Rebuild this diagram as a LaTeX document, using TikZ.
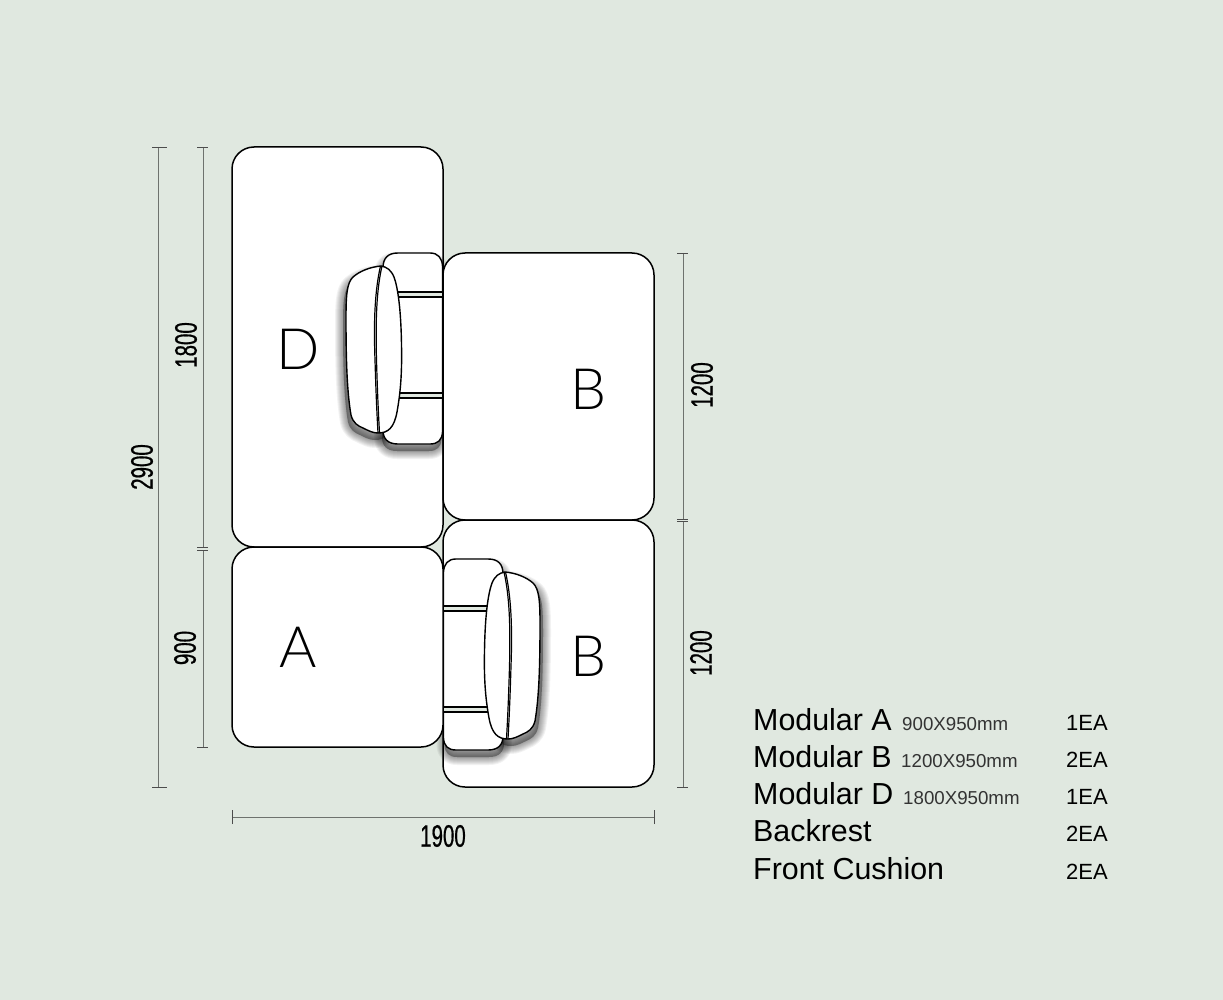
\documentclass[tikz,border=0pt]{standalone}
\usepackage{fontspec}
\setmainfont{Liberation Sans}
\newfontfamily\dimfont[FakeStretch=0.66,FakeBold=0.6]{Liberation Sans}
\newfontfamily\letterfont{Lato Light}
\usetikzlibrary{positioning}

\definecolor{bgcol}{HTML}{E0E8E0}
\definecolor{dimcol}{HTML}{6E726E}

\tikzset{
  module/.style={draw=black,line width=1.5pt,fill=white,rounded corners=22pt},
  seatline/.style={draw=black,line width=1.4pt,fill=white},
  dimline/.style={draw=dimcol,line width=0.9pt},
  dimtick/.style={draw=black!70,line width=0.7pt},
  dimlabel/.style={font=\dimfont\fontsize{31}{31}\selectfont,text=black,inner sep=0pt},
  letterlabel/.style={font=\letterfont\fontsize{57}{57}\selectfont,text=black,inner sep=0pt},
  itemlabel/.style={font=\fontsize{30.4}{30.4}\selectfont,text=black,anchor=base west,inner sep=0pt},
  sizelabel/.style={font=\fontsize{18.7}{18.7}\selectfont,text=black!80,anchor=base west,inner sep=0pt},
  countlabel/.style={font=\fontsize{22}{22}\selectfont,text=black,anchor=base west,inner sep=0pt},
}

\newcommand{\backpath}{(383,268) .. controls (383,258) and (388,253) .. (398,253) -- (430,253)
  .. controls (438,253) and (442,258) .. (442.5,266) -- (442.5,432)
  .. controls (442,440) and (438,444) .. (430,444) -- (398,444)
  .. controls (388,444) and (383,439) .. (383,430) -- cycle}
\newcommand{\cushionpath}{(381,266) .. controls (370,267) and (360,271) .. (353,277)
  .. controls (347,283) and (346,294) .. (346,318)
  .. controls (346,360) and (347,392) .. (351,415)
  .. controls (353,423) and (358,426) .. (363,428)
  .. controls (369,431) and (373,433) .. (378,433)
  .. controls (388,433) and (394,428) .. (397,412)
  .. controls (401,390) and (402,370) .. (401.5,345)
  .. controls (401,310) and (398,288) .. (394,277)
  .. controls (391,270) and (387,267) .. (381,266) -- cycle}

% backrest with its front cushion, #1 moves the stripes
\newcommand{\seatunit}[1]{
  \foreach \w in {16,14,12,10,8,6,4,2} {
    \draw[black,opacity=0.05,line width=\w pt,line join=round,fill=black,fill opacity=0.05,shift={(-1,7)}] \backpath;
    \draw[black,opacity=0.05,line width=\w pt,line join=round,fill=black,fill opacity=0.05,shift={(-3,7)}] \cushionpath;
  }
  \path[seatline] \backpath;
  \fill[bgcol] (396,{292+#1}) rectangle (442,{297+#1});
  \fill[bgcol] (396,{393+#1}) rectangle (442,{398+#1});
  \foreach \ya in {292,297,393,398} {
    \draw[draw=black,line width=1.4pt] (396,{\ya+#1}) -- (442,{\ya+#1});
  }
  \path[seatline] \cushionpath;
  \draw[black,line width=1.2pt] (380.5,266) .. controls (375,290) and (373.5,320) .. (375,360) .. controls (376,395) and (377,415) .. (378,433);
  \draw[black,line width=1.2pt] (382,266) .. controls (376.5,290) and (375.5,320) .. (376.5,360) .. controls (377.5,395) and (378.5,415) .. (379.5,433);
}

\begin{document}
\begin{tikzpicture}[x=1pt,y=-1pt]
  \useasboundingbox[fill=bgcol] (0,0) rectangle (1223,1000);

  % modules
  \path[module] (232,147) rectangle (443,547);
  \seatunit{0}
  \path[module] (443,253) rectangle (654,520);
  \path[module] (443,520) rectangle (654,787);
  \begin{scope}[shift={(886,306)},xscale=-1]
    \seatunit{8}
  \end{scope}
  \path[module] (232,547) rectangle (443,747);

  \node[letterlabel] (letterd) at (298,349) {D};
  \node[letterlabel] (lettera) at (298,647) {A};
  \node[letterlabel] (letterb) at (589,389) {B};
  \node[letterlabel] (lettersb) at (589,656) {B};

  % dimensions
  \coordinate (totaltop) at (158,147);
  \coordinate (totalbot) at (158,787);
  \coordinate (dtop) at (203,147);
  \coordinate (dbot) at (203,547);
  \coordinate (atop) at (203,550);
  \coordinate (abot) at (203,747);
  \coordinate (btop) at (683,253);
  \coordinate (bbot) at (683,519);
  \coordinate (ctop) at (683,521);
  \coordinate (cbot) at (683,787);
  \coordinate (wleft) at (232,817);
  \coordinate (wright) at (654,817);

  \draw[dimline] (totaltop) -- (totalbot);
  \draw[dimline] (dtop) -- (dbot);
  \draw[dimline] (atop) -- (abot);
  \draw[dimline] (btop) -- (bbot);
  \draw[dimline] (ctop) -- (cbot);
  \draw[dimline] (wleft) -- (wright);

  \foreach \a in {totaltop,totalbot} {
    \draw[dimtick] ([xshift=-6pt]\a) -- ([xshift=9pt]\a);
  }
  \foreach \a in {dtop,dbot,atop,abot,btop,bbot,ctop,cbot} {
    \draw[dimtick] ([xshift=-6pt]\a) -- ([xshift=5pt]\a);
  }
  \foreach \a in {wleft,wright} {
    \draw[dimtick] ([yshift=-7pt]\a) -- ([yshift=7pt]\a);
  }

  \node[dimlabel,rotate=90] (total) at (142,467) {2900};
  \node[dimlabel,rotate=90] (dheight) at (186,345) {1800};
  \node[dimlabel,rotate=90] (aheight) at (185,648) {900};
  \node[dimlabel,rotate=90] (bheight) at (702,385) {1200};
  \node[dimlabel,rotate=90] (cheight) at (701,653) {1200};
  \node[dimlabel] (width) at (443,836) {1900};

  % list
  \node[itemlabel] (itema) at (753,730) {Modular A};
  \node[itemlabel] (itemb) at (753,767) {Modular B};
  \node[itemlabel] (itemd) at (753,804) {Modular D};
  \node[itemlabel] (itemr) at (753,841) {Backrest};
  \node[itemlabel] (itemc) at (753,879) {Front Cushion};

  \node[sizelabel] (sizea) at (902,730) {900X950mm};
  \node[sizelabel] (sizeb) at (901,767) {1200X950mm};
  \node[sizelabel] (sized) at (903,804) {1800X950mm};

  \node[countlabel] (counta) at (1066,730) {1EA};
  \node[countlabel] (countb) at (1066,767) {2EA};
  \node[countlabel] (countd) at (1066,804) {1EA};
  \node[countlabel] (countr) at (1066,841) {2EA};
  \node[countlabel] (countc) at (1066,879) {2EA};
\end{tikzpicture}
\end{document}
